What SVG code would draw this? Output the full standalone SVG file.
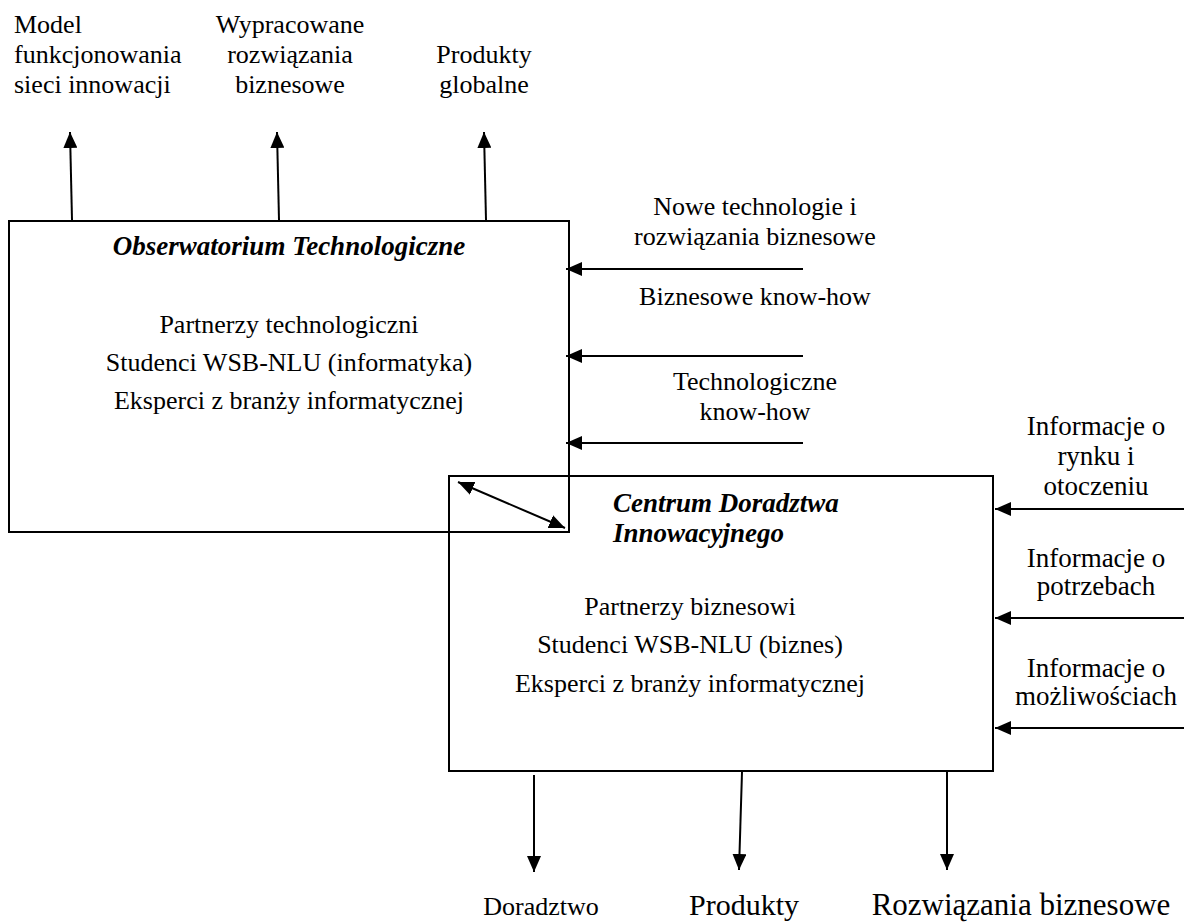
<svg xmlns="http://www.w3.org/2000/svg" width="1184" height="923" viewBox="0 0 1184 923">
<style>
text{font-family:"Liberation Serif","Times New Roman",serif;font-size:26px;fill:#000}
.c{text-anchor:middle}
.t{font-weight:bold;font-style:italic;font-size:27px}
.box{fill:none;stroke:#000;stroke-width:2}
.ln{stroke:#000;stroke-width:2;fill:none}
.r{font-size:27px}
.big{font-size:30px}
.big2{font-size:31px}
</style>
<defs>
<marker id="ah" viewBox="0 0 16 14" refX="16" refY="7" markerWidth="16" markerHeight="14" markerUnits="userSpaceOnUse" orient="auto-start-reverse">
<path d="M0,0 L16,7 L0,14 z" fill="#000"/>
</marker>
</defs>
<rect width="1184" height="923" fill="#fff"/>
<g id="obserwatorium">
<rect class="box" x="9" y="221" width="560" height="311"/>
<text class="c t" x="289" y="255">Obserwatorium Technologiczne</text>
<text class="c" x="289" y="333">Partnerzy technologiczni</text>
<text class="c" x="289" y="371">Studenci WSB-NLU (informatyka)</text>
<text class="c" x="289" y="409">Eksperci z branży informatycznej</text>
</g>
<g id="centrum">
<rect class="box" x="449" y="476" width="544" height="295"/>
<text class="t" x="613" y="512">Centrum Doradztwa</text>
<text class="t" x="613" y="542">Innowacyjnego</text>
<text class="c" x="690" y="615">Partnerzy biznesowi</text>
<text class="c" x="690" y="653">Studenci WSB-NLU (biznes)</text>
<text class="c" x="690" y="692">Eksperci z branży informatycznej</text>
</g>
<g id="labels">
<text x="14" y="33">Model</text>
<text x="14" y="63">funkcjonowania</text>
<text x="14" y="93">sieci innowacji</text>
<text class="c" x="290" y="33">Wypracowane</text>
<text class="c" x="290" y="63">rozwiązania</text>
<text class="c" x="290" y="93">biznesowe</text>
<text class="c" x="484" y="63">Produkty</text>
<text class="c" x="484" y="93">globalne</text>
<text class="c" x="755" y="215">Nowe technologie i</text>
<text class="c" x="755" y="245">rozwiązania biznesowe</text>
<text class="c" x="755" y="305">Biznesowe know-how</text>
<text class="c" x="755" y="390">Technologiczne</text>
<text class="c" x="755" y="420">know-how</text>
<text class="c r" x="1096" y="435">Informacje o</text>
<text class="c r" x="1096" y="465">rynku i</text>
<text class="c r" x="1096" y="495">otoczeniu</text>
<text class="c r" x="1096" y="567">Informacje o</text>
<text class="c r" x="1096" y="595">potrzebach</text>
<text class="c r" x="1096" y="677">Informacje o</text>
<text class="c r" x="1096" y="705">możliwościach</text>
<text class="c" x="541" y="915">Doradztwo</text>
<text class="c big" x="744" y="915">Produkty</text>
<text class="c big2" x="1021" y="915">Rozwiązania biznesowe</text>
</g>
<g id="connectors">
<line class="ln" x1="72" y1="220" x2="70" y2="132" marker-end="url(#ah)"/>
<line class="ln" x1="279" y1="220" x2="277" y2="132" marker-end="url(#ah)"/>
<line class="ln" x1="486" y1="220" x2="484" y2="132" marker-end="url(#ah)"/>
<line class="ln" x1="803" y1="269" x2="566" y2="269" marker-end="url(#ah)"/>
<line class="ln" x1="803" y1="356" x2="566" y2="356" marker-end="url(#ah)"/>
<line class="ln" x1="803" y1="443" x2="566" y2="443" marker-end="url(#ah)"/>
<line class="ln" x1="1184" y1="509" x2="995" y2="509" marker-end="url(#ah)"/>
<line class="ln" x1="1184" y1="618" x2="995" y2="618" marker-end="url(#ah)"/>
<line class="ln" x1="1184" y1="728" x2="995" y2="728" marker-end="url(#ah)"/>
<line class="ln" x1="458" y1="482" x2="565" y2="528" marker-start="url(#ah)" marker-end="url(#ah)"/>
<line class="ln" x1="534" y1="775" x2="534" y2="872" marker-end="url(#ah)"/>
<line class="ln" x1="742" y1="772" x2="739" y2="870" marker-end="url(#ah)"/>
<line class="ln" x1="947" y1="772" x2="947" y2="870" marker-end="url(#ah)"/>
</g>
</svg>
